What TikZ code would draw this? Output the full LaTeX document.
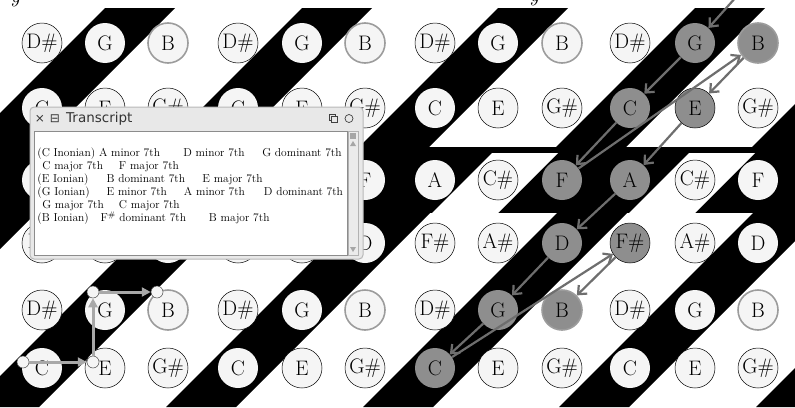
\documentclass[tikz,border=0pt]{standalone}
\usepackage{fontspec}
\usetikzlibrary{arrows.meta}
\newfontfamily\uifont{DejaVu Sans}

\definecolor{notefill}{HTML}{F5F5F5}
\definecolor{hlfill}{HTML}{8E8E8E}
\definecolor{bring}{HTML}{9C9C9C}
\definecolor{pathgray}{HTML}{6E6E6E}
\definecolor{stepgray}{HTML}{A8A8A8}
\definecolor{winframe}{HTML}{E8E8E8}
\definecolor{winedge}{HTML}{B8B8B8}

% text placed at a fixed offset inside a transcript line
\newcommand{\tcol}[2]{\makebox[0pt][l]{\hspace*{#1pt}#2}}
% cells that are lit on the right
\newcommand{\litcell}[1]{\expandafter\def\csname lit#1\endcsname{}}
\litcell{1-11}\litcell{1-12}\litcell{2-10}\litcell{2-11}
\litcell{3-9}\litcell{3-10}\litcell{4-9}\litcell{4-10}
\litcell{5-8}\litcell{5-9}\litcell{6-7}

\begin{document}
\begin{tikzpicture}[
	x=1pt, y=-1pt,
	note/.style={circle, minimum size=40pt, inner sep=0pt, fill=notefill,
		font=\fontsize{21}{21}\selectfont},
	bare/.style={note},
	ringed/.style={note, draw=black, line width=0.5pt},
	bnote/.style={note, draw=bring, line width=1.6pt},
	lit/.style={fill=hlfill},
	unlit/.style={},
	chordpath/.style={draw=pathgray, line width=2.2pt,
		-{Straight Barb[length=7pt,width=12pt]}},
	stepmark/.style={circle, minimum size=12pt, inner sep=0pt, fill=notefill,
		draw=black!70, line width=0.5pt},
	stepline/.style={draw=stepgray, line width=3pt, -{Triangle[length=9pt,width=9pt]}},
	tline/.style={anchor=base west, inner sep=0pt, font=\fontsize{11.5}{13}\selectfont}
	]
	\useasboundingbox (0,0) rectangle (795,407);
	\clip (0,0) rectangle (795,407);
	
	% Cut-off caption letters
	\node[font=\fontsize{22}{22}\selectfont\itshape, anchor=base] (capa) at (15,2) {y};
	\node[font=\fontsize{22}{22}\selectfont\itshape, anchor=base] (capb) at (534,1) {y};
	
	% Stripes, rows 1-2
	\begin{scope}
		\clip (0,8) rectangle (795,147);
		\foreach \g in {105,302,498,695,891}
			\fill (\g,8) -- ++(70,0) -- ++(-139,139) -- ++(-70,0) -- cycle;
	\end{scope}
	
	% Stripes, row 3
	\fill (0,147) rectangle (795,213);
	\foreach \s in {105,302,498,695}
		\fill[white] (\s-6,153) -- ++(66,0) -- ++(-60,60) -- ++(-66,0) -- cycle;
	
	% Stripes, rows 4-6
	\foreach \d in {-29,168,365,562,758,955}
		\fill (\d-5,213) -- ++(70,0) -- ++(-194,194) -- ++(-70,0) -- cycle;
	
	% Note grid
	\foreach \r/\y/\na/\sa/\nb/\sb/\nc/\sc in {
		1/43/D\#/ringed/G/bare/B/bnote,
		2/108/C/bare/E/ringed/G\#/ringed,
		3/180/A/bare/C\#/ringed/F/bare,
		4/243/F\#/ringed/A\#/ringed/D/bare,
		5/310/D\#/ringed/G/bare/B/bnote,
		6/368/C/bare/E/ringed/G\#/ringed}
	\foreach \x [count=\c] in {42,105,168,238,302,365,435,498,562,630,695,758} {
		\pgfmathtruncatemacro\m{mod(\c-1,3)}
		\ifcase\m \let\nm\na \let\st\sa \or \let\nm\nb \let\st\sb \else \let\nm\nc \let\st\sc \fi
		\ifcsname lit\r-\c\endcsname \def\hs{lit}\else \def\hs{unlit}\fi
		\node[\st, \hs] (r\r c\c) at (\x,\y) {\nm};
	}
	
	% Chord root path
	\coordinate (pathin) at (737,-4);
	\draw[chordpath] (pathin) -- (r1c11);
	\draw[chordpath] (r1c11) -- (r2c10);
	\draw[chordpath] (r2c10) -- (r3c9);
	\draw[chordpath] (r3c9) -- (r1c12);
	\draw[chordpath] (r1c12) -- (r2c11);
	\draw[chordpath] (r2c11) -- (r3c10);
	\draw[chordpath] (r3c10) -- (r4c9);
	\draw[chordpath] (r4c9) -- (r5c8);
	\draw[chordpath] (r5c8) -- (r6c7);
	\draw[chordpath] (r6c7) -- (r4c10);
	\draw[chordpath] (r4c10) -- (r5c9);
	
	% Steps C - E - G - B
	\node[stepmark] (s1) at (23,362) {};
	\node[stepmark] (s2) at (93,362) {};
	\node[stepmark] (s3) at (93,292) {};
	\node[stepmark] (s4) at (157,292) {};
	\draw[stepline] (s1) -- (s2);
	\draw[stepline] (s2) -- (s3);
	\draw[stepline] (s3) -- (s4);
	
	% Transcript window
	\draw[winedge, fill=winframe, rounded corners=4pt, line width=1pt] (30,107) rectangle (363,259);
	\draw[black!45, fill=white] (34,131) rectangle (347,255);
	\draw[black!30, fill=black!8] (348,131) rectangle (358,255);
	\fill[black!35] (350,133) rectangle (356,139);
	\fill[black!35] (350,146) -- (356,146) -- (353,141) -- cycle;
	\fill[black!35] (350,247) -- (356,247) -- (353,252) -- cycle;
	\node[font=\uifont\fontsize{12}{12}\selectfont, text=black!80] (winclose) at (40,118.5) {×};
	\node[font=\uifont\fontsize{12}{12}\selectfont, text=black!80] (winmenu) at (55,118.5) {⊟};
	\node[font=\uifont\fontsize{13.5}{13.5}\selectfont, text=black!80, anchor=west, inner sep=0pt] (wintitle) at (66,118.5) {Transcript};
	\draw[black!75, line width=0.7pt] (329,114) rectangle (335,120);
	\draw[black!75, line width=0.7pt, fill=winframe] (331.5,116.5) rectangle (337.5,122.5);
	\draw[black!75, line width=0.7pt] (349,118.5) circle (4);
	
	% Transcript text
	\node[tline] (tl1) at (36.7,156.5) {\tcol{0}{(C Inonian) A minor 7th}\tcol{146}{D minor 7th}\tcol{225}{G dominant 7th}};
	\node[tline] (tl2) at (41.7,169.5) {\tcol{0}{C major 7th}\tcol{76.6}{F major 7th}};
	\node[tline] (tl3) at (36.7,182.5) {\tcol{0}{(E Ionian)}\tcol{69.3}{B dominant 7th}\tcol{165}{E major 7th}};
	\node[tline] (tl4) at (36.7,195.5) {\tcol{0}{(G Ionian)}\tcol{69.3}{E minor 7th}\tcol{146.6}{A minor 7th}\tcol{226.6}{D dominant 7th}};
	\node[tline] (tl5) at (41.7,208.5) {\tcol{0}{G major 7th}\tcol{76.6}{C major 7th}};
	\node[tline] (tl6) at (36.7,221.5) {\tcol{0}{(B Ionian)}\tcol{63.3}{F\textsuperscript{\#} dominant 7th}\tcol{171.6}{B major 7th}};
\end{tikzpicture}
\end{document}
